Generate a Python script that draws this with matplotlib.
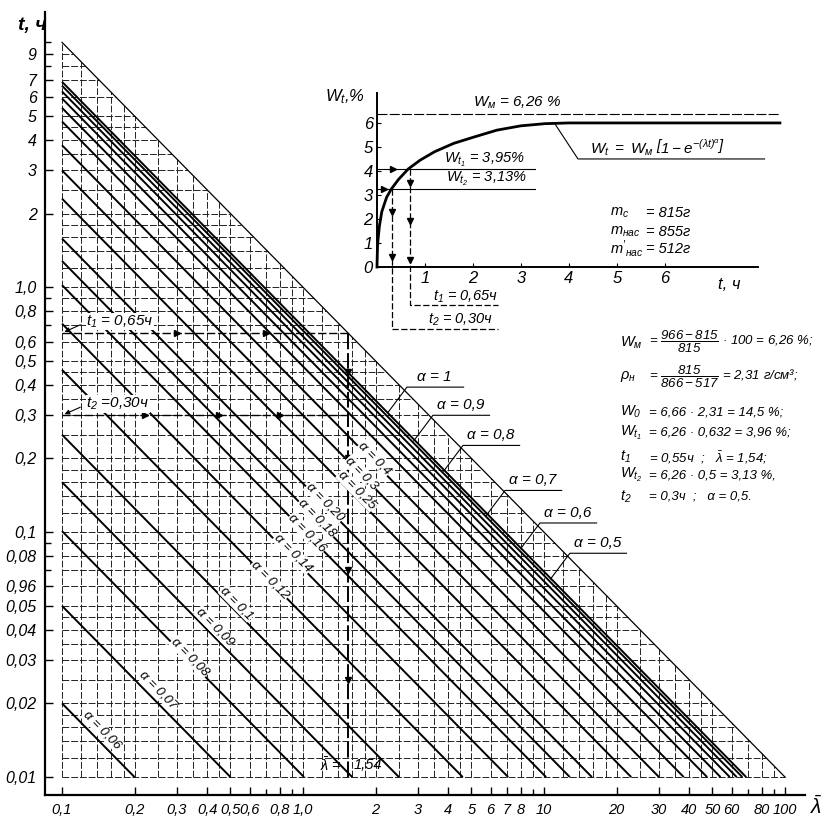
import matplotlib
matplotlib.use('Agg')
from matplotlib import pyplot as plt
from matplotlib import font_manager
from matplotlib.ticker import NullFormatter

names = {f.name for f in font_manager.fontManager.ttflist}
FONT = 'Liberation Sans Narrow' if 'Liberation Sans Narrow' in names else 'Liberation Sans'
plt.rcParams['font.family'] = [FONT, 'DejaVu Sans']
plt.rcParams['font.style'] = 'italic'
plt.rcParams['mathtext.fontset'] = 'custom'
plt.rcParams['mathtext.it'] = FONT + ':italic'
plt.rcParams['mathtext.rm'] = FONT + ':italic'

# --- nomogram data: lines lambda*t = const for each alpha ---
alpha = [1, 0.9, 0.8, 0.7, 0.6, 0.5, 0.4, 0.3, 0.25, 0.20, 0.18, 0.16,
         0.14, 0.12, 0.1, 0.09, 0.08, 0.07, 0.06]
lam_t = [0.69, 0.665, 0.63, 0.59, 0.54, 0.475, 0.38, 0.30, 0.23, 0.158, 0.128,
         0.102, 0.071, 0.046, 0.025, 0.016, 0.0101, 0.005, 0.002]

# labels written along the lines (alpha <= 0.4)
line_lbl = ['α = 0,4', 'α = 0,3', 'α = 0,25', 'α = 0,20', 'α = 0,18', 'α = 0,16',
            'α = 0,14', 'α = 0,12', 'α = 0,1', 'α = 0,09', 'α = 0,08', 'α = 0,07',
            'α = 0,06']
line_lbl_lam = [1.99, 1.757, 1.675, 1.234, 1.143, 1.04, 0.909, 0.73, 0.532,
                0.431, 0.34, 0.25, 0.1466]
line_lbl_t = [0.2005, 0.174, 0.148, 0.1325, 0.114, 0.099, 0.082, 0.0637,
              0.0513, 0.041, 0.0309, 0.02265, 0.01556]

# labels with leader lines (alpha 1 ... 0.5)
lead_lbl = ['α = 1', 'α = 0,9', 'α = 0,8', 'α = 0,7', 'α = 0,6', 'α = 0,5']
lead_lam = [2.70, 3.46, 4.61, 6.89, 9.62, 12.8]
lead_t = [0.391, 0.30, 0.226, 0.148, 0.109, 0.082]

grid_steps = [1, 1.2, 1.4, 1.6, 1.8, 2, 2.5, 3, 3.5, 4, 4.5, 5, 6, 7, 8, 9]

x_ticks = [0.1, 0.2, 0.3, 0.4, 0.5, 0.6, 0.8, 1, 2, 3, 4, 5, 6, 7, 8, 10,
           20, 30, 40, 50, 60, 80, 100]
x_labels = ['0,1', '0,2', '0,3', '0,4', '0,5', '0,6', '0,8', '1,0', '2', '3', '4',
            '5', '6', '7', '8', '10', '20', '30', '40', '50', '60', '80', '100']
x_minor = [0.7, 0.9, 9, 70, 90]
y_ticks = [0.01, 0.02, 0.03, 0.04, 0.05, 0.06, 0.08, 0.1, 0.2, 0.3, 0.4, 0.5,
           0.6, 0.8, 1.0, 2, 3, 4, 5, 6, 7, 9]
y_labels = ['0,01', '0,02', '0,03', '0,04', '0,05', '0,96', '0,08', '0,1', '0,2',
            '0,3', '0,4', '0,5', '0,6', '0,8', '1,0', '2', '3', '4', '5', '6',
            '7', '9']
y_minor = [0.07, 0.09, 0.7, 0.9, 8, 10]

lam_bar = 1.54
t1, t2 = 0.65, 0.30

# --- inset curve W(t) ---
curve_t = [0, 0.01, 0.02, 0.05, 0.1, 0.2, 0.3, 0.45, 0.65, 0.9, 1.2, 1.6, 2.0,
           2.5, 3.0, 3.5, 4.0, 8.4]
curve_w = [0, 0.8, 1.1, 1.7, 2.3, 2.9, 3.25, 3.65, 4.08, 4.45, 4.8, 5.15, 5.4,
           5.7, 5.88, 5.97, 6.0, 6.0]
w_max_line = 6.37
w_t1_line, w_t2_line = 4.08, 3.25
t1_in, t2_in = 0.69, 0.31

form_lhs = ['$W_м$', '$ρ_н$', '$W_0$', '$W_{t_1}$', '$t_1$', '$W_{t_2}$', '$t_2$']
form_rhs = ['= $\\dfrac{966 - 815}{815}$ · 100 = 6,26 %;',
            '= $\\dfrac{815}{866 - 517}$ = 2,31 г/см³;',
            '= 6,66 · 2,31 = 14,5 %;',
            '= 6,26 · 0,632 = 3,96 %;',
            '= 0,55ч  ;   $\\bar{\\lambda}$ = 1,54;',
            '= 6,26 · 0,5 = 3,13 %,',
            '= 0,3ч  ;   α = 0,5.']
form_y = [0.583, 0.541, 0.498, 0.473, 0.443, 0.421, 0.395]

fig = plt.figure(figsize=(8.24, 8.21), dpi=100)
ax = fig.add_axes([0.0546, 0.0317, 0.9223, 0.9537])
ax.set_xscale('log')
ax.set_yscale('log')
ax.set_xlim(0.085, 121)
ax.set_ylim(0.00845, 13.3)

# grid clipped to the triangle under lambda*t = 1
lam_grid = [s * 10 ** d for d in (-1, 0, 1) for s in grid_steps] + [100]
t_grid = [s * 10 ** d for d in (-2, -1, 0) for s in grid_steps] + [10]
ax.vlines(lam_grid, 0.01, [1 / l for l in lam_grid], colors='#222222',
          linewidth=0.7, linestyles=(0, (7, 2)))
ax.hlines(t_grid, 0.1, [1 / t for t in t_grid], colors='#222222',
          linewidth=0.7, linestyles=(0, (7, 2)))

ax.plot([0.1, 100], [10, 0.01], color='black', lw=0.9)
for c in lam_t:
    ax.plot([0.1, c / 0.01], [c / 0.1, 0.01], color='black', lw=1.4,
            solid_capstyle='butt')

for s, l, t in zip(line_lbl, line_lbl_lam, line_lbl_t):
    ax.text(l, t, s, rotation=-45.5, ha='center', va='center', fontsize=9.5,
            rotation_mode='anchor',
            bbox=dict(fc='white', ec='none', pad=0.4))

for s, l, t in zip(lead_lbl, lead_lam, lead_t):
    ax.plot([l * 10 ** -0.08, l, l * 10 ** 0.235], [t * 10 ** -0.105, t, t],
            color='black', lw=0.8)
    ax.text(l * 10 ** 0.115, t * 1.03, s, ha='center', va='bottom', fontsize=11)

# t1 / t2 / lambda-bar construction
ax.plot([0.1, lam_bar], [t1, t1], color='black', lw=1.0, ls=(0, (6, 2)))
ax.plot([0.1, lam_bar], [t2, t2], color='black', lw=1.0, ls=(0, (6, 2)))
ax.plot([lam_bar, lam_bar], [0.01, t1], color='black', lw=1.4, ls=(0, (8, 2)))
ax.plot([0.22, 0.45, 0.8], [t2] * 3, ls='none', marker='>', ms=4, color='black')
ax.plot([0.3, 0.7], [t1] * 2, ls='none', marker='>', ms=4, color='black')
ax.plot([lam_bar] * 4, [0.45, 0.2, 0.07, 0.025], ls='none', marker='v', ms=4,
        color='black')
ax.annotate('', xy=(0.1, t1), xytext=(0.122, 0.71),
            arrowprops=dict(arrowstyle='-|>', lw=0.8, color='black',
                            mutation_scale=7))
ax.annotate('', xy=(0.1, t2), xytext=(0.122, 0.327),
            arrowprops=dict(arrowstyle='-|>', lw=0.8, color='black',
                            mutation_scale=7))
ax.text(0.126, 0.725, '$t_1$ = 0,65ч', fontsize=11, va='center', ha='left',
        bbox=dict(fc='white', ec='none', pad=0.3))
ax.text(0.126, 0.334, '$t_2$ =0,30ч', fontsize=11, va='center', ha='left',
        bbox=dict(fc='white', ec='none', pad=0.3))
ax.text(1.45, 0.0112, '$\\bar{\\lambda}$ =', fontsize=10.5, ha='right', va='center')
ax.text(1.62, 0.0112, '1,54', fontsize=10.5, ha='left', va='center')

for side in ('top', 'right'):
    ax.spines[side].set_visible(False)
for side in ('left', 'bottom'):
    ax.spines[side].set_linewidth(1.6)
ax.set_xticks(x_ticks, x_labels)
ax.set_xticks(x_minor, minor=True)
ax.set_yticks(y_ticks, y_labels)
ax.set_yticks(y_minor, minor=True)
ax.xaxis.set_minor_formatter(NullFormatter())
ax.yaxis.set_minor_formatter(NullFormatter())
ax.tick_params(which='major', direction='in', length=6, width=1, labelsize=11.5,
               pad=6)
ax.tick_params(axis='x', which='major', labelsize=10.5)
ax.tick_params(which='minor', direction='in', length=4, width=1)
fig.text(0.022, 0.969, 't, ч', fontsize=14, weight='bold', ha='left', va='center')
fig.text(0.99, 0.018, '$\\bar{\\lambda}$', fontsize=15, ha='center', va='center')

# --- inset ---
ins = fig.add_axes([0.4575, 0.6748, 0.489, 0.212])
ins.patch.set_alpha(0)
ins.set_xlim(0, 8.4)
ins.set_ylim(0, 7.25)
for side in ('top', 'right'):
    ins.spines[side].set_visible(False)
ins.spines['bottom'].set_bounds(0, 7.94)
ins.spines['left'].set_linewidth(1.4)
ins.spines['bottom'].set_linewidth(1.4)
ins.set_xticks([1, 2, 3, 4, 5, 6])
ins.set_yticks([0, 1, 2, 3, 4, 5, 6])
ins.tick_params(direction='in', length=3, width=0.8, labelsize=12, pad=3)
ins.text(7.35, -0.4, 't, ч', fontsize=12, ha='center', va='top')
ins.text(-0.25, 7.1, '$W_t$,%', fontsize=12, ha='right', va='center')

ins.plot(curve_t, curve_w, color='black', lw=2.0, clip_on=False)
ins.plot([0, 8.4], [w_max_line, w_max_line], color='black', lw=0.8,
         ls=(0, (9, 2)), clip_on=False)
ins.text(2.92, 6.83, '$W_м$ = 6,26 %', fontsize=11, ha='center', va='center')
ins.plot([0, 3.3], [w_t1_line, w_t1_line], color='black', lw=0.8)
ins.plot([0, 3.3], [w_t2_line, w_t2_line], color='black', lw=0.8)
ins.text(2.25, 4.45, '$W_{t_1}$ = 3,95%', fontsize=10.5, ha='center', va='center')
ins.text(2.29, 3.67, '$W_{t_2}$ = 3,13%', fontsize=10.5, ha='center', va='center')
ins.plot([0.33], [w_t1_line], marker='>', ms=4, color='black')
ins.plot([0.14], [w_t2_line], marker='>', ms=4, color='black')
ins.plot([t2_in, t2_in, 2.52], [w_t2_line, -2.6, -2.6], color='black', lw=0.9,
         ls=(0, (5, 2)), clip_on=False)
ins.plot([t1_in, t1_in, 2.52], [w_t1_line, -1.6, -1.6], color='black', lw=0.9,
         ls=(0, (5, 2)), clip_on=False)
ins.plot([t2_in] * 2, [2.3, 0.4], ls='none', marker='v', ms=4, color='black')
ins.plot([t1_in] * 3, [3.5, 1.9, 0.3], ls='none', marker='v', ms=4, color='black')
ins.text(1.85, -1.25, '$t_1$ = 0,65ч', fontsize=10.5, ha='center', va='center')
ins.text(1.73, -2.22, '$t_2$ = 0,30ч', fontsize=10.5, ha='center', va='center')

ins.plot([3.71, 4.19, 8.08], [5.96, 4.5, 4.5], color='black', lw=0.8,
         clip_on=False)
ins.text(5.85, 4.98, '$W_t\\ =\\ W_м\\ \\left[1 - e^{-(\\lambda t)^{\\alpha}}\\right]$',
         fontsize=11, ha='center', va='center')
ins.text(4.85, 2.25, '$m_с$', fontsize=10.5, ha='left', va='center')
ins.text(4.85, 1.46, '$m_{нас}$', fontsize=10.5, ha='left', va='center')
ins.text(4.85, 0.75, "$m'_{нас}$", fontsize=10.5, ha='left', va='center')
ins.text(5.6, 2.25, '= 815г', fontsize=10.5, ha='left', va='center')
ins.text(5.6, 1.46, '= 855г', fontsize=10.5, ha='left', va='center')
ins.text(5.6, 0.75, '= 512г', fontsize=10.5, ha='left', va='center')

# --- worked example on the right ---
for lhs, rhs, y in zip(form_lhs, form_rhs, form_y):
    fig.text(0.752, y, lhs, fontsize=10.5, ha='left', va='center')
    fig.text(0.788, y, rhs, fontsize=9.5, ha='left', va='center')

fig.savefig('out.png', dpi=100)
